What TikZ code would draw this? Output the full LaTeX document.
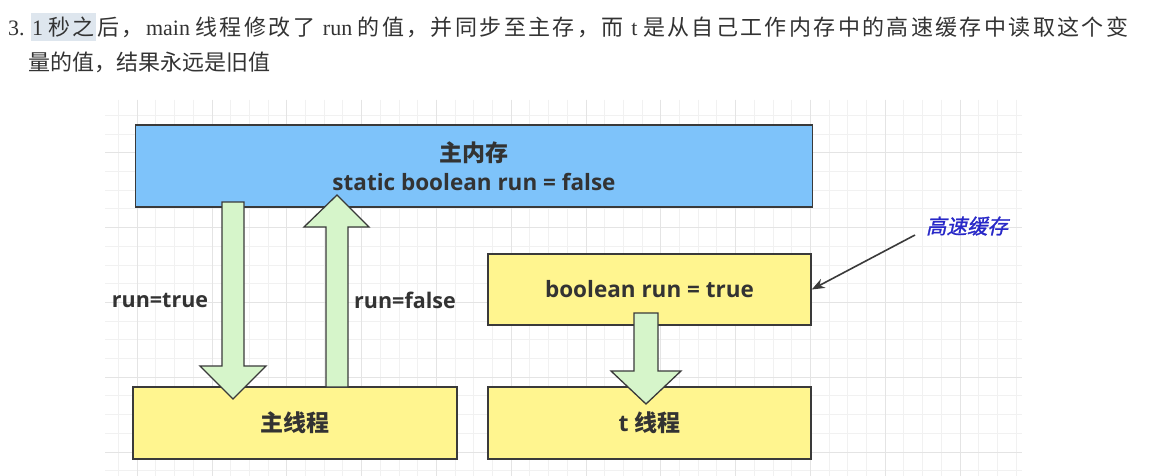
\documentclass[tikz,border=0pt]{standalone}
\usepackage{fontspec}
\setmainfont{Liberation Serif}
\newfontfamily\cjk{Noto Sans CJK SC}
\newfontfamily\cjkit{Noto Sans CJK SC}[FakeSlant=0.22,FakeBold=1.2]
\newfontfamily\dsans{Open Sans}
\def\spreadc#1{\ifx#1\relax\else #1\hskip 0pt plus 1fil\expandafter\spreadc\fi}
\usetikzlibrary{arrows.meta}
\definecolor{memblue}{RGB}{126,195,250}
\definecolor{thyellow}{RGB}{255,245,143}
\definecolor{agreen}{RGB}{214,245,202}
\definecolor{edge}{RGB}{58,58,58}
\definecolor{txt}{RGB}{51,51,51}
\definecolor{gminor}{RGB}{241,241,241}
\definecolor{gmajor}{RGB}{228,228,228}
\definecolor{hl}{RGB}{222,230,238}
\definecolor{annblue}{RGB}{40,40,200}
\tikzset{
  boxstyle/.style={draw=edge, line width=1.5pt, inner sep=0pt, text=txt},
  memstyle/.style={boxstyle, fill=memblue},
  thstyle/.style={boxstyle, fill=thyellow},
  barrow/.style={draw=edge, fill=agreen, line width=1.3pt, line join=miter},
  lbl/.style={text=txt, font=\dsans\bfseries\fontsize{21.5}{25}\selectfont},
}
\begin{document}
\begin{tikzpicture}[x=1pt,y=-1pt]
\useasboundingbox (0,0) rectangle (1161,476);
\fill[white] (0,0) rectangle (1161,476);
% grid
\begin{scope}
\clip (105,100) rectangle (1022,476);
\foreach \i in {-46,...,4} {\draw[gminor, line width=1pt] ({960+18.7*\i},100) -- ({960+18.7*\i},476);}
\foreach \j in {-19,...,2} {\draw[gminor, line width=1pt] (105,{452+18.7*\j}) -- (1022,{452+18.7*\j});}
\foreach \i in {-48,-44,...,4} {\draw[gmajor, line width=1pt] ({960+18.7*\i},100) -- ({960+18.7*\i},476);}
\foreach \j in {-20,-16,...,4} {\draw[gmajor, line width=1pt] (105,{452+18.7*\j}) -- (1022,{452+18.7*\j});}
\end{scope}
% top text
\fill[hl] (31,13) rectangle (96,41);
\node[anchor=west, text=txt, inner sep=0pt, font=\fontsize{22}{26}\selectfont] (line1) at (8,27)
 {\hbox to 1120pt{3. 1 {\cjk\spreadc 秒之后，\relax}main {\cjk\spreadc 线程修改了\relax} run {\cjk\spreadc 的值，并同步至主存，而\relax} t {\cjk\spreadc 是从自己工作内存中的高速缓存中读取这个变\relax\unskip}}};
\node[anchor=west, text=txt, inner sep=0pt, font=\cjk\fontsize{22}{26}\selectfont] (line2) at (28,62)
 {量的值，结果永远是旧值};
% boxes
\node[memstyle, minimum width=677pt, minimum height=82pt, align=center,
      font=\bfseries\fontsize{22.5}{29}\selectfont] (mem) at (474,166)
 {{\cjk\fontsize{23}{29}\selectfont 主内存}\\{\dsans static boolean run = false}};
\node[thstyle, minimum width=323pt, minimum height=71pt, font=\dsans\bfseries\fontsize{22.5}{26}\selectfont] (bool) at (649.5,289.5) {boolean run = true};
\node[thstyle, minimum width=324pt, minimum height=72pt, font=\bfseries\fontsize{23}{26}\selectfont] (mainth) at (295,423) {\cjk 主线程};
\node[thstyle, minimum width=323pt, minimum height=72pt, font=\bfseries\fontsize{23}{26}\selectfont] (tth) at (649.5,423) {{\dsans t} {\cjk 线程}};
% block arrows
\draw[barrow] (222,202) -- (244,202) -- (244,366) -- (266,366) -- (233,399) -- (200,366) -- (222,366) -- cycle;
\draw[barrow] (326,387) -- (326,227) -- (304,227) -- (337,195) -- (369,227) -- (348,227) -- (348,387) -- cycle;
\draw[barrow] (634,313) -- (658,313) -- (658,371) -- (681,371) -- (646,404) -- (611,371) -- (634,371) -- cycle;
% labels
\node[lbl] (ltrue) at (160,300) {run=true};
\node[lbl] (lfalse) at (405,300) {run=false};
% annotation
\node[text=annblue, font=\cjkit\fontsize{20.5}{24}\selectfont, inner sep=1pt] (cache) at (967,226) {高速缓存};
\coordinate (cfrom) at (915,235);
\draw[edge, line width=1.6pt, -{Stealth[length=13pt,width=10pt]}] (cfrom) -- (bool.east);
\end{tikzpicture}
\end{document}
